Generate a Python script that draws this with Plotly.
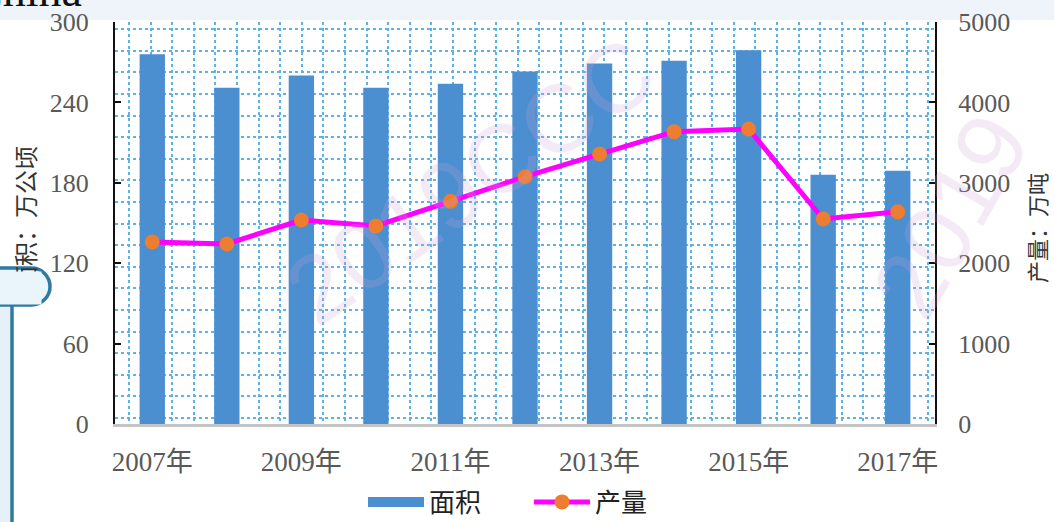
import plotly.graph_objects as go

# ---------------- data ----------------
years = ["2007年", "2008年", "2009年", "2010年", "2011年", "2012年",
         "2013年", "2014年", "2015年", "2016年", "2017年"]
area = [276, 251, 260, 251, 254, 263, 269, 271, 279, 186, 189]          # 面积 (万公顷)
output = [2264, 2239, 2537, 2463, 2770, 3076, 3358, 3636, 3669, 2550, 2640]  # 产量 (万吨)
label_years = ["2007年", "2009年", "2011年", "2013年", "2015年", "2017年"]
left_ticks = [0, 60, 120, 180, 240, 300]
right_ticks = [0, 1000, 2000, 3000, 4000, 5000]

# ---------------- geometry helpers ----------------
W, H = 1054, 522
L, R, T, B = 115, 935, 22, 424


def px(x):
    return (x - L) / (R - L)


def py(y):
    return (B - y) / (B - T)


serif = "Liberation Serif, Noto Sans CJK SC, serif"
cjk = "Noto Sans CJK SC, sans-serif"
bar_color = "#4b8fd1"

fig = go.Figure()

fig.add_trace(go.Bar(
    x=years, y=area, name="面积", showlegend=False,
    marker=dict(color=bar_color, line=dict(width=0)),
))
# legend entry for the bars (wide rectangle like the original legend key)
fig.add_trace(go.Scatter(
    x=[None], y=[None], name="面积", mode="lines",
    line=dict(color=bar_color, width=12), hoverinfo="skip",
))
fig.add_trace(go.Scatter(
    x=years, y=output, name="产量", yaxis="y2",
    mode="lines+markers",
    line=dict(color="#ff00ff", width=5),
    marker=dict(color="#ed7d31", size=15, line=dict(width=0)),
))
# empty trace to carry the background dotted grid axes
fig.add_trace(go.Scatter(x=[], y=[], xaxis="x3", yaxis="y3",
                         showlegend=False, hoverinfo="skip"))

# ---------------- decorations ----------------
r = 18.5
x0b, x1b, y0b, y1b = -5, 50, 268, 305
cx = x1b - r
k = 0.5523 * r
ym = (y0b + y1b) / 2
box_path = (
    f"M {px(x0b)},{py(y0b)} L {px(cx)},{py(y0b)} "
    f"C {px(cx + k)},{py(y0b)} {px(x1b)},{py(ym - k)} {px(x1b)},{py(ym)} "
    f"C {px(x1b)},{py(ym + k)} {px(cx + k)},{py(y1b)} {px(cx)},{py(y1b)} "
    f"L {px(x0b)},{py(y1b)} Z"
)

shapes = [
    dict(type="rect", xref="paper", yref="paper", layer="below",
         x0=px(-5), x1=px(W + 5), y0=py(-5), y1=py(20),
         fillcolor="#eef4fa", line=dict(width=0)),
    dict(type="rect", xref="paper", yref="paper", layer="above",
         x0=px(-5), x1=px(12), y0=py(y1b), y1=py(H + 10),
         fillcolor="#e6f0f8", line=dict(width=0)),
    dict(type="line", xref="paper", yref="paper", layer="above",
         x0=px(12), x1=px(12), y0=py(y1b), y1=py(H + 10),
         line=dict(color="#2f7aa5", width=3.5)),
    dict(type="path", xref="paper", yref="paper", layer="above",
         path=box_path, fillcolor="#eaf4fb",
         line=dict(color="#2f7aa5", width=3.5)),
]

wm_font = dict(family="Liberation Sans, sans-serif", size=96,
               color="rgba(205,160,215,0.22)")
annotations = [
    dict(text="2019CCC", xref="paper", yref="paper", x=px(470), y=py(180),
         xanchor="center", yanchor="middle", showarrow=False, textangle=-35,
         font=wm_font),
    dict(text="2019", xref="paper", yref="paper", x=px(950), y=py(215),
         xanchor="center", yanchor="middle", showarrow=False, textangle=-60,
         font=wm_font),
    dict(text="China", xref="paper", yref="paper", x=px(-30), y=py(18),
         xanchor="left", yanchor="bottom", showarrow=False,
         font=dict(family=serif, size=46, color="#111111")),
    dict(text="面积：万公顷", xref="paper", yref="paper", x=px(24), y=py(218),
         xanchor="center", yanchor="middle", showarrow=False, textangle=-90,
         font=dict(family=cjk, size=24, color="#333333")),
    dict(text="产量：万吨", xref="paper", yref="paper", x=px(1036), y=py(228),
         xanchor="center", yanchor="middle", showarrow=False, textangle=-90,
         font=dict(family=cjk, size=22, color="#333333")),
    # cover inside the panel box (hides the cut part of the left title)
    dict(text=" ", xref="paper", yref="paper", x=px(-2), y=py(y0b + 2.5),
         xanchor="left", yanchor="top", showarrow=False,
         width=42, height=32, bgcolor="#eaf4fb", borderpad=0,
         font=dict(size=10)),
]

tick_font = dict(family=serif, size=26, color="#595959")

fig.update_layout(
    width=W, height=H,
    margin=dict(l=L, r=W - R, t=T, b=H - B, pad=0, autoexpand=False),
    paper_bgcolor="white",
    plot_bgcolor="white",
    bargap=0.66,
    showlegend=True,
    legend=dict(orientation="h", x=px(363), y=py(502), xanchor="left",
                yanchor="middle", font=dict(family=cjk, size=26, color="#222222"),
                bgcolor="rgba(0,0,0,0)", itemwidth=56, entrywidth=95,
                traceorder="normal"),
    xaxis=dict(type="category", range=[-0.5, 10.5],
               tickmode="array", tickvals=label_years, ticktext=label_years,
               showgrid=False, zeroline=False, ticks="",
               showline=True, linecolor="#c4c4c4", linewidth=3,
               tickfont=dict(family=serif, size=27, color="#595959"),
               ticklabelstandoff=12),
    yaxis=dict(range=[0, 300], tickmode="array", tickvals=left_ticks,
               showgrid=False, zeroline=False,
               ticks="inside", ticklen=6, tickwidth=1.5, tickcolor="#111111",
               showline=True, linecolor="#111111", linewidth=2,
               tickfont=tick_font, ticklabelstandoff=19),
    yaxis2=dict(range=[0, 5000], overlaying="y", side="right",
                tickmode="array", tickvals=right_ticks,
                showgrid=False, zeroline=False,
                ticks="inside", ticklen=6, tickwidth=1.5, tickcolor="#111111",
                showline=True, linecolor="#111111", linewidth=2,
                tickfont=tick_font, ticklabelstandoff=16),
    xaxis3=dict(overlaying="x", anchor="y3", range=[0, R - L],
                tick0=14, dtick=21.6, showgrid=True, gridcolor="#5db2e6",
                griddash="dot", gridwidth=1.5, showticklabels=False,
                zeroline=False, showline=False, ticks=""),
    yaxis3=dict(overlaying="y", anchor="x3", range=[0, B - T],
                tick0=6, dtick=21.6, showgrid=True, gridcolor="#5db2e6",
                griddash="dot", gridwidth=1.5, showticklabels=False,
                zeroline=False, showline=False, ticks=""),
    shapes=shapes,
    annotations=annotations,
)

fig.write_html("out.html", config={"displayModeBar": False},
               post_script="document.body.style.margin='0px';")
